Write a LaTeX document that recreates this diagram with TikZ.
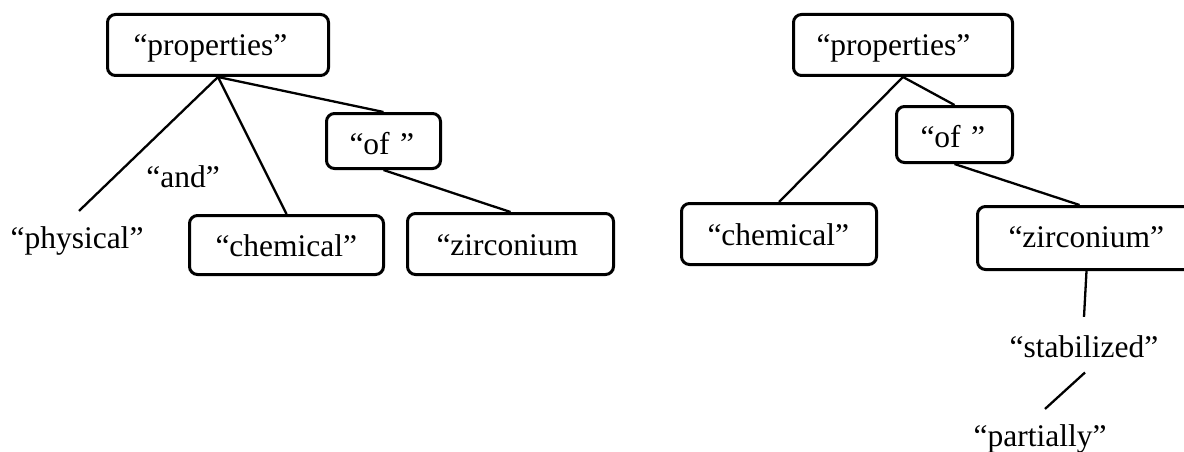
\documentclass[tikz,border=0pt]{standalone}
\usepackage{fontspec}
\setmainfont{Liberation Serif}
\begin{document}
\begin{tikzpicture}[x=1pt,y=-1pt,
  tbox/.style={draw, line width=3pt, rounded corners=8pt, anchor=north west, inner ysep=0pt, align=left, text height=22pt, text depth=0pt},
  lbl/.style={inner sep=0pt, anchor=base},
  conn/.style={line width=2.3pt}]
\fontsize{31.5}{37}\selectfont
\useasboundingbox (0,0) rectangle (1184,452);
% left tree
\node[tbox, minimum height=61pt, inner xsep=26pt, text width=169pt] (lp) at (106,13) {“properties”};
\node[tbox, minimum height=55pt, inner xsep=23pt, text width=68pt, text height=26pt] (lof) at (325,112) {“of~”};
\node[tbox, minimum height=59pt, inner xsep=26pt, text width=142pt] (lch) at (188,214) {“chemical”};
\node[tbox, minimum height=61pt, inner xsep=29pt, text width=148pt] (lzr) at (406,212) {“zirconium};
\node[lbl] (ph) at (77,248) {“physical”};
\node[lbl] (and) at (183,187) {“and”};
\draw[conn] (lp.south) -- ([shift={(2pt,15pt)}]ph.north);
\draw[conn] (lp.south) -- (lch.north);
\draw[conn] (lp.south) -- (lof.north);
\draw[conn] (lof.south) -- (lzr.north);
% right tree
\node[tbox, minimum height=61pt, inner xsep=23pt, text width=173pt] (rp) at (792,13) {“properties”};
\node[tbox, minimum height=56pt, inner xsep=24pt, text width=68pt, text height=26pt] (rof) at (895,105) {“of~”};
\node[tbox, minimum height=61pt, inner xsep=26pt, text width=143pt] (rch) at (680,202) {“chemical”};
\node[tbox, minimum height=63pt, inner xsep=31pt, text width=156pt, text height=19pt] (rzr) at (976,205) {“zirconium”};
\node[lbl] (st) at (1084,357) {“stabilized”};
\node[lbl] (pa) at (1040,446) {“partially”};
\draw[conn] (rp.south) -- (rch.north);
\draw[conn] (rp.south) -- (rof.north);
\draw[conn] (rof.south) -- ([xshift=-7pt]rzr.north);
\draw[conn] (rzr.south) -- ([yshift=18pt]st.north);
\draw[conn] ([shift={(1pt,-15pt)}]st.south) -- ([shift={(5pt,15pt)}]pa.north);
\end{tikzpicture}
\end{document}
